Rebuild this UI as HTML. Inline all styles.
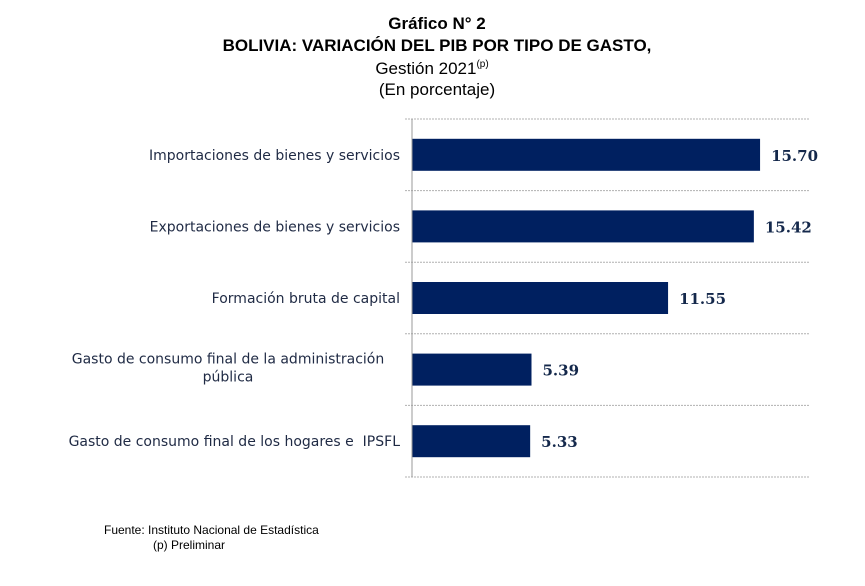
<!DOCTYPE html>
<html><head><meta charset="utf-8"><style>
body{margin:0;background:#fff;width:865px;height:581px;overflow:hidden;font-family:"Liberation Sans",sans-serif}
</style></head><body>
<svg width="865" height="581" xmlns="http://www.w3.org/2000/svg">
<g text-anchor="middle" fill="#000" font-family="Liberation Sans, sans-serif">
<text x="437" y="29" font-size="17" font-weight="bold">Gráfico N° 2</text>
<text x="437" y="51" font-size="17" font-weight="bold">BOLIVIA: VARIACIÓN DEL PIB POR TIPO DE GASTO,</text>
<text x="432" y="74" font-size="17">Gestión 2021<tspan font-size="10" dy="-7">(p)</tspan></text>
<text x="437" y="95" font-size="17">(En porcentaje)</text>
</g>
<g id="grid"></g>
<g id="bars"></g>
<line x1="412" y1="119" x2="412" y2="477" stroke="#999" stroke-width="1"/>
<text x="104" y="534" font-size="12">Fuente: Instituto Nacional de Estadística</text>
<text x="153" y="549" font-size="12">(p) Preliminar</text>
</svg>
<script>
const categories=[["Importaciones de bienes y servicios"],["Exportaciones de bienes y servicios"],["Formación bruta de capital"],["Gasto de consumo final de la administración","pública"],["Gasto de consumo final de los hogares e  IPSFL"]];
const values=[15.70,15.42,11.55,5.39,5.33];
const valueLabels=["15.70","15.42","11.55","5.39","5.33"];
const NS="http://www.w3.org/2000/svg";
const x0=412,pxPerUnit=22.17,top0=119,band=71.6,barH=32;
const xs=v=>x0+v*pxPerUnit;
const yb=i=>top0+i*band;
const grid=document.getElementById('grid'),bars=document.getElementById('bars');
for(let i=0;i<=categories.length;i++){
 const l=document.createElementNS(NS,'line');
 
 
 l.setAttribute('x1',405);l.setAttribute('x2',810);
 l.setAttribute('y1',yb(i));l.setAttribute('y2',yb(i));
 l.setAttribute('stroke','#b0b0b0');l.setAttribute('stroke-dasharray','2,1');
 grid.appendChild(l);
}
values.forEach((v,i)=>{
 const cy=yb(i)+band/2;
 const r=document.createElementNS(NS,'rect');
 
 
 r.setAttribute('x',x0);r.setAttribute('y',cy-barH/2);
 r.setAttribute('width',xs(v)-x0);r.setAttribute('height',barH);
 r.setAttribute('fill','#002060');
 bars.appendChild(r);
 const t=document.createElementNS(NS,'text');
 
 
 t.setAttribute('x',xs(v)+11);t.setAttribute('y',cy+6);
 t.setAttribute('font-family','DejaVu Serif, serif');t.setAttribute('font-weight','bold');
 t.setAttribute('font-size','15');t.setAttribute('fill','#14284b');
 t.textContent=valueLabels[i];
 bars.appendChild(t);
 const lines=categories[i];
 lines.forEach((s,j)=>{
  const c=document.createElementNS(NS,'text');
  
  
  c.setAttribute('font-family','DejaVu Sans, sans-serif');c.setAttribute('font-size','14');
  c.setAttribute('fill','#1f2a44');
  c.setAttribute('xml:space','preserve');
  c.style.whiteSpace='pre';
  if(lines.length===1){c.setAttribute('x',400);c.setAttribute('text-anchor','end');c.setAttribute('y',cy+5);}
  else{c.setAttribute('x',228);c.setAttribute('text-anchor','middle');c.setAttribute('y',cy-6+j*18);}
  c.textContent=s;
  bars.appendChild(c);
 });
});
</script>
</body></html>
